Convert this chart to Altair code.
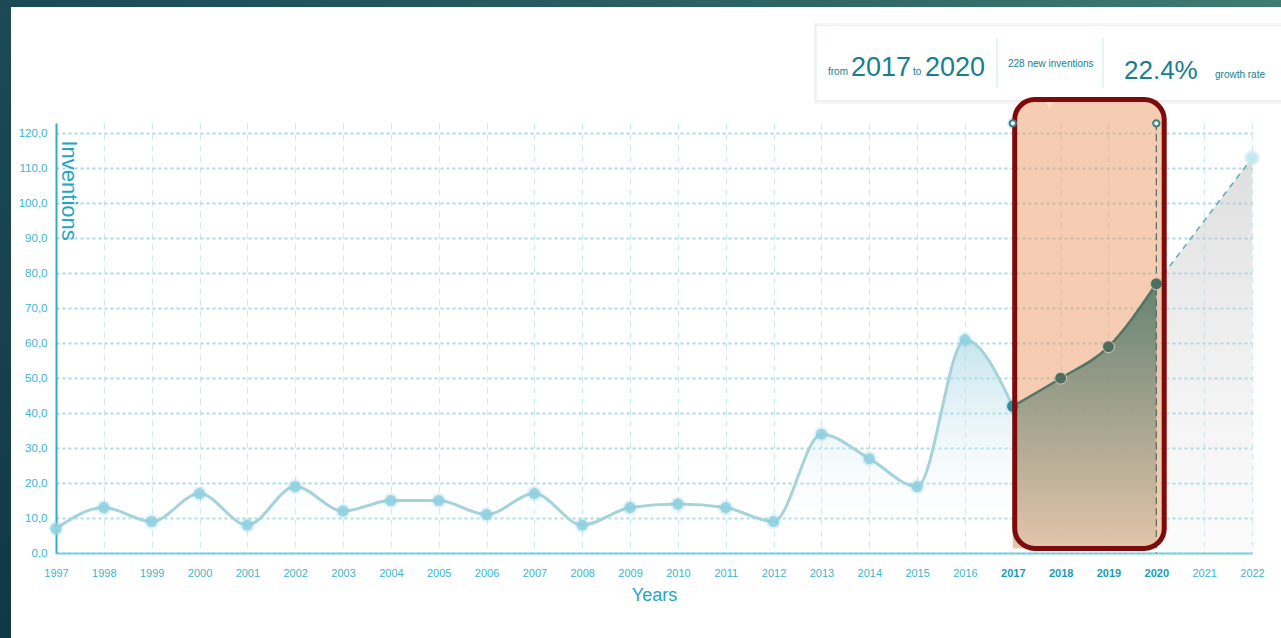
import altair as alt
import pandas as pd

# ---------------- data ----------------
years = list(range(1997, 2021))
inventions = [7, 13, 9, 17, 8, 19, 12, 15, 15, 11, 17, 8, 13, 14, 13, 9,
              34, 27, 19, 61, 42, 50, 59, 77]
forecast_years = [2020, 2022]
forecast_values = [77, 113]
sel_start, sel_end = 2017, 2020
axis_years = list(range(1997, 2023))
y_ticks = list(range(0, 130, 10))
box_bottom = 1.3

df = pd.DataFrame({"year": years, "value": inventions})
hist = df[df.year <= sel_start]
sel = df[(df.year >= sel_start) & (df.year <= sel_end)].copy()
sel["base"] = box_bottom
sel_pts = df[(df.year > sel_start) & (df.year <= sel_end)]
first_pt = df[df.year == sel_start]
fc = pd.DataFrame({"year": forecast_years, "value": forecast_values})
fc_end = fc[fc.year == forecast_years[-1]]
handles = pd.DataFrame({"year": [sel_start, sel_end], "value": [122.9, 122.9]})
box = pd.DataFrame({"year": [sel_start + 0.04], "year2": [sel_end + 0.165],
                    "value": [129.7], "value2": [box_bottom]})
pointer = pd.DataFrame({"year": [sel_start + 0.77], "value": [128.3]})
end_line = pd.DataFrame({"year": [sel_end], "value": [122.9], "value2": [0]})
one = pd.DataFrame({"k": [0]})

total_new = int(sel.value.sum())
v0 = float(sel.value.iloc[0]); v1 = float(sel.value.iloc[-1])
growth = ((v1 / v0) ** (1.0 / (len(sel) - 1)) - 1) * 100

FONT = "Liberation Sans, Arial, sans-serif"
LAB = "#3DB5CB"

x_scale = alt.Scale(domain=[1997, 2022], nice=False, zero=False)
y_scale = alt.Scale(domain=[0, 123], nice=False, zero=True)

x_axis = alt.Axis(
    values=axis_years, format="d", ticks=False, grid=True,
    gridDash=[6, 5], gridColor="#CBE9F1", gridWidth=1,
    domainColor="#7ECFDE", domainWidth=2,
    labelFont=FONT, labelFontSize=11, labelPadding=14,
    labelFlush=False, labelOverlap=False,
    labelColor={"condition": {"test": f"datum.value >= {sel_start} && datum.value <= {sel_end}",
                              "value": "#1A9BB5"}, "value": LAB},
    labelFontWeight={"condition": {"test": f"datum.value >= {sel_start} && datum.value <= {sel_end}",
                                   "value": "bold"}, "value": "normal"},
    title="Years", titleFont=FONT, titleFontSize=18, titleFontWeight="normal",
    titleColor="#27A5C0", titlePadding=8,
)
y_axis = alt.Axis(
    values=y_ticks, tickCount=13, ticks=False, grid=True,
    gridDash=[3, 3], gridColor="#A9DBE7", gridWidth=2,
    domainColor="#2FAEC7", domainWidth=2,
    labelExpr="replace(format(datum.value, '.1f'), '.', ',')",
    labelFont=FONT, labelFontSize=11.5, labelPadding=9, labelColor=LAB,
    labelOverlap=False, labelFlush=False,
    title="Inventions", titleFont=FONT, titleFontSize=22,
    titleFontWeight="normal", titleColor="#22A7C2", titleAngle=90,
    titleX=12, titleY=17, titleAlign="left", titleBaseline="middle",
)

X = alt.X("year:Q", scale=x_scale, axis=x_axis)
Y = alt.Y("value:Q", scale=y_scale, axis=y_axis)


def grad(top, bottom):
    return alt.Gradient(gradient="linear", x1=0, x2=0, y1=0, y2=1,
                        stops=[alt.GradientStop(color=top, offset=0),
                               alt.GradientStop(color=bottom, offset=1)])


def txt(s, px, py, size, color="#1A7E8E"):
    return alt.Chart(one).mark_text(
        text=s, fontSize=size, font=FONT, color=color,
        align="left", baseline="alphabetic"
    ).encode(x=alt.value(px), y=alt.value(py))


# ---------------- frame ----------------
left_strip = alt.Chart(one).mark_rect(color=grad("#1C4A56", "#113844")).encode(
    x=alt.value(-56), x2=alt.value(-45), y=alt.value(-123), y2=alt.value(515))
top_strip = alt.Chart(one).mark_rect(color=alt.Gradient(
    gradient="linear", x1=0, x2=1, y1=0, y2=0,
    stops=[alt.GradientStop(color="#1B4955", offset=0),
           alt.GradientStop(color="#2B5E62", offset=0.5),
           alt.GradientStop(color="#3F7C71", offset=1)])).encode(
    x=alt.value(-56), x2=alt.value(1230), y=alt.value(-123), y2=alt.value(-116))

# ---------------- info panel ----------------
shadow2 = alt.Chart(one).mark_rect(color="#F6F6F6").encode(
    x=alt.value(758), x2=alt.value(1240), y=alt.value(-100), y2=alt.value(-19))
shadow1 = alt.Chart(one).mark_rect(color="#EEEEEE").encode(
    x=alt.value(759), x2=alt.value(1240), y=alt.value(-98), y2=alt.value(-21))
panel = alt.Chart(one).mark_rect(color="white").encode(
    x=alt.value(760), x2=alt.value(1240), y=alt.value(-97), y2=alt.value(-23))
panel_edge = alt.Chart(one).mark_rule(color="#D6EEF5", strokeWidth=1).encode(
    x=alt.value(760), y=alt.value(-97), y2=alt.value(-23))
div1 = alt.Chart(one).mark_rule(color="#CBEAF3", strokeWidth=1).encode(
    x=alt.value(941), y=alt.value(-85), y2=alt.value(-35))
div2 = alt.Chart(one).mark_rule(color="#CBEAF3", strokeWidth=1).encode(
    x=alt.value(1047), y=alt.value(-85), y2=alt.value(-35))
texts = [
    txt("from", 772, -48, 10),
    txt(str(sel_start), 795, -47, 27),
    txt("to", 857, -48, 10),
    txt(str(sel_end), 869, -47, 27),
    txt(f"{total_new} new inventions", 952, -56, 10),
    txt(f"{growth:.1f}%", 1068, -44, 26),
    txt("growth rate", 1159, -45, 10),
]

# ---------------- data marks ----------------
base_area = alt.Chart(hist).mark_area(
    interpolate="monotone", color=grad("rgba(160,212,226,0.6)", "rgba(255,255,255,0)")
).encode(x=X, y=Y)
fc_area = alt.Chart(fc).mark_area(
    color=grad("rgba(195,195,195,0.55)", "rgba(225,225,225,0.12)")
).encode(x=X, y=Y)
base_line = alt.Chart(hist).mark_line(
    interpolate="monotone", color="#A6D2DB", strokeWidth=3
).encode(x=X, y=Y)
fc_line = alt.Chart(fc).mark_line(
    color="#68AEBF", strokeWidth=1.6, strokeDash=[6, 5]
).encode(x=X, y=Y)
glow = alt.Chart(hist).mark_circle(color="#8CCDDE", opacity=0.25, size=230).encode(x=X, y=Y)
dots = alt.Chart(hist).mark_circle(color="#8FD0E1", opacity=0.9, size=120).encode(x=X, y=Y)
fc_glow = alt.Chart(fc_end).mark_circle(color="#BFE5F0", opacity=0.5, size=240).encode(x=X, y=Y)
fc_dot = alt.Chart(fc_end).mark_circle(color="#C3E7F1", opacity=0.9, size=120).encode(x=X, y=Y)

# highlight box
box_fill = alt.Chart(box).mark_rect(
    fill="#EE9966", fillOpacity=0.5, cornerRadius=20
).encode(x=X, x2="year2:Q", y=Y, y2="value2:Q")
ptr = alt.Chart(pointer).mark_point(
    shape="triangle-down", filled=True, color="#F9DCC8", opacity=1, size=110
).encode(x=X, y=Y)
sel_area = alt.Chart(sel).mark_area(
    interpolate="monotone", color=grad("#5E7F6F", "#E2C4AA"), opacity=0.95
).encode(x=X, y=Y, y2="base:Q")
sel_line = alt.Chart(sel).mark_line(
    interpolate="monotone", color="#537565", strokeWidth=2.5
).encode(x=X, y=Y)
end_rule = alt.Chart(end_line).mark_rule(
    color="#4E6E60", strokeWidth=1.2, strokeDash=[7, 4]
).encode(x=X, y=Y, y2="value2:Q")
sel_dots = alt.Chart(sel_pts).mark_circle(
    color="#4D6E5F", stroke="#D9C9B2", strokeWidth=1, opacity=1, size=140
).encode(x=X, y=Y)
first_dot = alt.Chart(first_pt).mark_circle(
    color="#2B8FA3", opacity=1, size=130
).encode(x=X, y=Y)
box_border = alt.Chart(box).mark_rect(
    fillOpacity=0, stroke="#7E0B0B", strokeWidth=5, cornerRadius=20
).encode(x=X, x2="year2:Q", y=Y, y2="value2:Q")
handle_glow = alt.Chart(handles[handles.year == sel_start]).mark_circle(
    color="#BFE6EF", opacity=0.7, size=120).encode(x=X, y=Y)
handle_pts = alt.Chart(handles).mark_point(
    shape="circle", filled=False, size=40, strokeWidth=2,
    color="#3C7F80", fill="white", fillOpacity=1
).encode(x=X, y=Y)

chart = alt.layer(
    base_area, fc_area,
    left_strip, top_strip,
    shadow2, shadow1, panel, panel_edge, div1, div2, *texts,
    base_line, fc_line, glow, dots, fc_glow, fc_dot,
    box_fill, ptr, sel_area, end_rule, sel_line, sel_dots, first_dot,
    handle_glow, box_border, handle_pts,
).properties(
    width=1196, height=430,
    autosize=alt.AutoSizeParams(type="none"),
    padding={"left": 56, "top": 123, "right": 29, "bottom": 85},
    background="white",
).configure_view(stroke=None)

chart.save("out.html", embed_options={"renderer": "svg", "actions": False})
